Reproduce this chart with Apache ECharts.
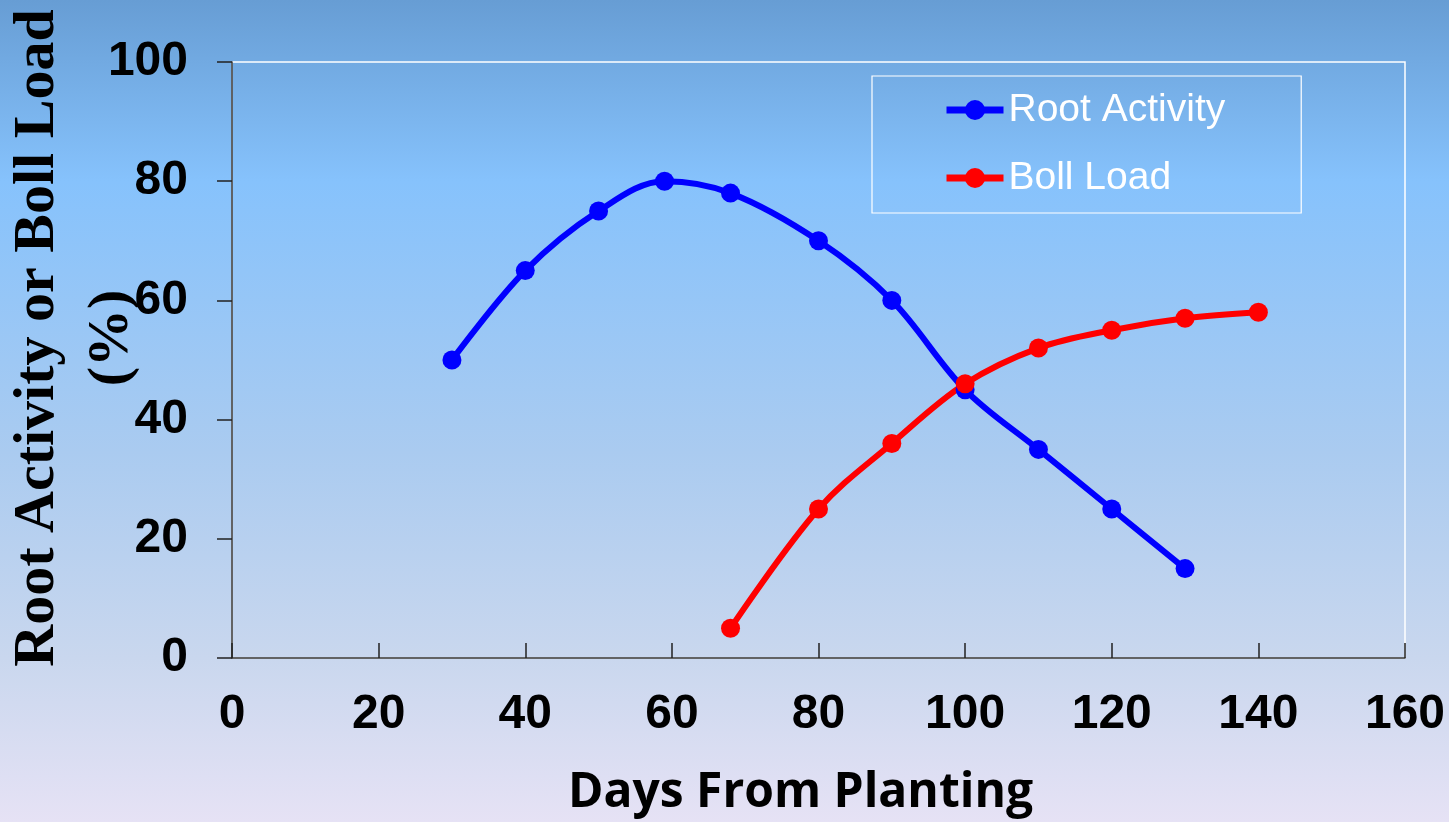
<!DOCTYPE html>
<html>
<head>
<meta charset="utf-8">
<script src="https://cdn.jsdelivr.net/npm/echarts@6/dist/echarts.min.js"></script>
<style>
html,body{margin:0;padding:0;}
#chart{width:1449px;height:822px;}
</style>
</head>
<body>
<div id="chart"></div>
<script>
// Data
const seriesNames = ['Root Activity', 'Boll Load'];
const rootDays = [30, 40, 50, 59, 68, 80, 90, 100, 110, 120, 130];
const rootValues = [50, 65, 75, 80, 78, 70, 60, 45, 35, 25, 15];
const bollDays = [68, 80, 90, 100, 110, 120, 130, 140];
const bollValues = [5, 25, 36, 46, 52, 55, 57, 58];
const xTitle = 'Days From Planting';
const yTitle = 'Root Activity or Boll Load\n(%)';

const pair = (xs, ys) => xs.map((x, i) => [x, ys[i]]);

const chart = echarts.init(document.getElementById('chart'), null, {renderer: 'canvas'});
const tickFont = {color: '#000', fontFamily: '"Liberation Sans", Arial, sans-serif', fontWeight: 'bold', fontSize: 48};

chart.setOption({
  backgroundColor: {
    type: 'linear', x: 0, y: 0, x2: 0, y2: 1,
    colorStops: [
      {offset: 0, color: '#679dd4'},
      {offset: 0.22, color: '#86c2fc'},
      {offset: 0.55, color: '#aacbf0'},
      {offset: 0.8, color: '#c9d7ee'},
      {offset: 1, color: '#e6e2f5'}
    ]
  },
  animation: false,
  grid: {
    left: 232, top: 62, right: 44, bottom: 164,
    containLabel: false,
    outerBoundsMode: 'none',
    show: true, borderColor: '#ffffff', borderWidth: 1.5, backgroundColor: 'transparent'
  },
  legend: {
    orient: 'vertical',
    left: 872, top: 76,
    padding: [14, 76, 15, 71],
    itemGap: 28,
    itemWidth: 57, itemHeight: 25,
    borderColor: '#ffffff', borderWidth: 1.2,
    lineStyle: {width: 7},
    textStyle: {color: '#ffffff', fontFamily: '"Liberation Sans", Arial, sans-serif', fontSize: 39, lineHeight: 40},
    data: seriesNames
  },
  xAxis: {
    type: 'value', min: 0, max: 160, interval: 20,
    splitLine: {show: false},
    axisLine: {onZero: false, lineStyle: {color: '#333', width: 1.5}},
    axisTick: {inside: true, length: 15, lineStyle: {color: '#222', width: 1.5}},
    axisLabel: Object.assign({margin: 33}, tickFont),
    name: xTitle,
    nameLocation: 'middle',
    nameGap: 111,
    nameMoveOverlap: false,
    nameTextStyle: {color: '#000', fontFamily: '"Open Sans", sans-serif', fontWeight: 'bold', fontSize: 48, padding: [0, 36, 0, 0]}
  },
  yAxis: {
    type: 'value', min: 0, max: 100, interval: 20,
    splitLine: {show: false},
    axisLine: {show: true, lineStyle: {color: '#333', width: 1.5}},
    axisTick: {show: true, inside: false, length: 15, lineStyle: {color: '#222', width: 1.5}},
    axisLabel: Object.assign({margin: 44}, tickFont),
    name: yTitle,
    nameLocation: 'middle',
    nameRotate: 90,
    nameGap: 83,
    nameMoveOverlap: false,
    nameTextStyle: {color: '#000', fontFamily: '"Liberation Serif", "Times New Roman", serif', fontWeight: 'bold', fontSize: 58, lineHeight: 74, padding: [0, 0, 0, 44]}
  },
  series: [
    {
      name: seriesNames[0], type: 'line', smooth: 0.35,
      data: pair(rootDays, rootValues),
      symbol: 'circle', symbolSize: 19,
      lineStyle: {color: '#0000ff', width: 6},
      itemStyle: {color: '#0000ff'}
    },
    {
      name: seriesNames[1], type: 'line', smooth: 0.35,
      data: pair(bollDays, bollValues),
      symbol: 'circle', symbolSize: 19,
      lineStyle: {color: '#ff0000', width: 6},
      itemStyle: {color: '#ff0000'}
    }
  ]
});
</script>
</body>
</html>
